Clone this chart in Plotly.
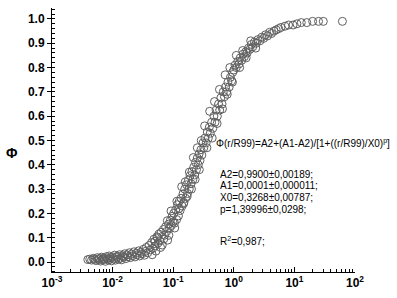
import plotly.graph_objects as go

# ---- data ----
x_tail = [0.0039, 0.0042, 0.0045, 0.0048, 0.0050, 0.0053, 0.0056, 0.0058, 0.0060, 0.0063,
          0.0066, 0.0068, 0.0070, 0.0073, 0.0076, 0.0079, 0.0082, 0.0085, 0.0088, 0.0090,
          0.0093, 0.0096, 0.0100, 0.0104, 0.0108, 0.0112, 0.0116, 0.0120, 0.0125, 0.0130,
          0.0135, 0.0140, 0.0146, 0.0152, 0.0158, 0.0165, 0.0172, 0.0180, 0.0188, 0.0196,
          0.0205, 0.0214, 0.0224, 0.0234, 0.0245, 0.0256, 0.0268, 0.0280, 0.0293, 0.0306,
          0.0320, 0.0335, 0.0350]
y_tail = [0.010, 0.012, 0.008, 0.015, 0.011, 0.006, 0.018, 0.010, 0.014, 0.004,
          0.020, 0.009, 0.016, 0.012, 0.003, 0.022, 0.014, 0.008, 0.025, 0.011,
          0.017, 0.005, 0.021, 0.013, 0.028, 0.008, 0.019, 0.024, 0.012, 0.030,
          0.016, 0.009, 0.026, 0.020, 0.034, 0.014, 0.029, 0.022, 0.038, 0.018,
          0.032, 0.026, 0.042, 0.021, 0.036, 0.030, 0.046, 0.025, 0.040, 0.034,
          0.052, 0.028, 0.044]

x_low = [0.036, 0.038, 0.040, 0.042, 0.044, 0.046, 0.048, 0.050, 0.052, 0.054, 0.056, 0.058, 0.060,
         0.063, 0.066, 0.069, 0.072, 0.075, 0.078, 0.081, 0.084, 0.087, 0.090, 0.093, 0.096, 0.099]
y_low = [0.060, 0.038, 0.068, 0.050, 0.080, 0.056, 0.094, 0.066, 0.045, 0.104, 0.078, 0.115, 0.088,
         0.122, 0.070, 0.134, 0.110, 0.145, 0.126, 0.090, 0.156, 0.138, 0.172, 0.150, 0.188, 0.164]

x_mid = [0.102, 0.106, 0.110, 0.114, 0.118, 0.122, 0.126, 0.130, 0.135, 0.140, 0.145, 0.150,
         0.155, 0.160, 0.166, 0.172, 0.178, 0.184, 0.190, 0.197, 0.204, 0.211, 0.218, 0.226,
         0.234, 0.242, 0.250, 0.259, 0.268, 0.277, 0.287, 0.297]
y_mid = [0.200, 0.140, 0.215, 0.175, 0.236, 0.190, 0.250, 0.212, 0.262, 0.230, 0.280, 0.245,
         0.300, 0.262, 0.318, 0.282, 0.336, 0.300, 0.355, 0.322, 0.372, 0.340, 0.390, 0.358,
         0.410, 0.380, 0.428, 0.400, 0.445, 0.418, 0.462, 0.440]

x_upmid = [0.31, 0.32, 0.335, 0.35, 0.365, 0.38, 0.395, 0.41, 0.43, 0.45, 0.47, 0.49, 0.51,
           0.535, 0.56, 0.585, 0.61, 0.64, 0.67, 0.70, 0.73, 0.765, 0.80, 0.84, 0.88, 0.92, 0.96]
y_upmid = [0.49, 0.47, 0.51, 0.49, 0.535, 0.51, 0.555, 0.53, 0.575, 0.55, 0.60, 0.575, 0.625,
           0.60, 0.65, 0.625, 0.675, 0.65, 0.70, 0.68, 0.72, 0.70, 0.74, 0.72, 0.76, 0.745, 0.78]

x_up = [1.0, 1.05, 1.1, 1.16, 1.22, 1.28, 1.35, 1.42, 1.5, 1.58, 1.66, 1.75, 1.85, 1.95, 2.05,
        2.2, 2.35, 2.5, 2.7, 2.9, 3.1, 3.35, 3.6, 3.9, 4.2, 4.6, 5.0, 5.5, 6.0]
y_up = [0.79, 0.81, 0.80, 0.825, 0.815, 0.84, 0.83, 0.855, 0.845, 0.865, 0.86, 0.88, 0.875,
        0.895, 0.885, 0.905, 0.90, 0.915, 0.91, 0.925, 0.92, 0.935, 0.93, 0.945, 0.94, 0.95,
        0.955, 0.96, 0.965]

x_top = [7, 8, 9.5, 11, 13, 16, 20, 25, 30, 62]
y_top = [0.97, 0.975, 0.975, 0.98, 0.985, 0.985, 0.99, 0.99, 0.99, 0.99]

x_extra = [0.045, 0.05, 0.055, 0.062, 0.07, 0.08, 0.085, 0.092, 0.105, 0.115, 0.125, 0.138,
           0.148, 0.158, 0.17, 0.185, 0.2, 0.215, 0.23, 0.25, 0.27, 0.29, 0.33, 0.36, 0.4,
           0.44, 0.48, 0.53, 0.58, 0.65, 0.72, 0.78, 0.86, 0.95, 1.1, 1.25, 1.4, 1.6, 1.9, 2.3]
y_extra = [0.03, 0.085, 0.10, 0.06, 0.095, 0.17, 0.11, 0.21, 0.16, 0.25, 0.22, 0.31,
           0.24, 0.33, 0.27, 0.37, 0.30, 0.43, 0.34, 0.47, 0.38, 0.50, 0.56, 0.47, 0.62,
           0.51, 0.66, 0.57, 0.71, 0.63, 0.77, 0.69, 0.80, 0.74, 0.85, 0.80, 0.87, 0.84, 0.91, 0.88]

x_ticks = [0.001, 0.01, 0.1, 1, 10, 100]
x_ticktext = ["10<sup>-3</sup>", "10<sup>-2</sup>", "10<sup>-1</sup>",
              "10<sup>0</sup>", "10<sup>1</sup>", "10<sup>2</sup>"]
y_ticks = [0.0, 0.1, 0.2, 0.3, 0.4, 0.5, 0.6, 0.7, 0.8, 0.9, 1.0]
y_ticktext = ["0.0", "0.1", "0.2", "0.3", "0.4", "0.5", "0.6", "0.7", "0.8", "0.9", "1.0"]

formula = "Φ(r/R99)=A2+(A1-A2)/[1+((r/R99)/X0)<sup>p</sup>]"
params = ["A2=0,9900±0,00189;", "A1=0,0001±0,000011;", "X0=0,3268±0,00787;", "p=1,39996±0,0298;"]
r2_text = "R<sup>2</sup>=0,987;"

xs = x_tail + x_low + x_mid + x_extra + x_upmid + x_up + x_top
ys = y_tail + y_low + y_mid + y_extra + y_upmid + y_up + y_top

fig = go.Figure()
fig.add_trace(go.Scatter(
    x=xs, y=ys, mode="markers",
    marker=dict(symbol="circle-open", size=8, color="#606060", line=dict(width=1, color="#606060")),
    showlegend=False,
))

FONT = "Liberation Sans, Arial, sans-serif"

fig.update_layout(
    width=397, height=298,
    margin=dict(l=52, r=42, t=8, b=26),
    paper_bgcolor="white", plot_bgcolor="white",
    font=dict(family=FONT, color="black"),
    xaxis=dict(
        type="log", range=[-3, 2], automargin=False,
        tickvals=x_ticks, ticktext=x_ticktext,
        ticks="inside", ticklen=5, tickwidth=1, tickcolor="black",
        showline=True, linecolor="black", linewidth=1,
        showgrid=False, zeroline=False,
        tickfont=dict(family=FONT, size=12, weight="bold", color="black"),
        minor=dict(dtick="D1", ticks="inside", ticklen=3, tickcolor="black", showgrid=False),
    ),
    yaxis=dict(
        range=[-0.041, 1.045], automargin=False,
        tickvals=y_ticks, ticktext=y_ticktext,
        ticks="outside", ticklen=4, tickwidth=1, tickcolor="black",
        showline=True, linecolor="black", linewidth=1,
        showgrid=False, zeroline=False,
        tickfont=dict(family=FONT, size=12, weight="bold", color="black"),
        minor=dict(dtick=0.02, tick0=0, ticks="inside", ticklen=3, tickcolor="black", showgrid=False),
    ),
)

fig.add_annotation(xref="paper", yref="paper", x=-0.133, y=0.45, text="<b>Φ</b>",
                   showarrow=False, font=dict(family=FONT, size=14, color="black"),
                   xanchor="center", yanchor="middle")

def px_to_paper_y(py):
    return (272 - py) / 264.0

def px_to_paper_x(px):
    return (px - 52) / 303.0

fig.add_annotation(xref="paper", yref="paper", x=px_to_paper_x(214), y=px_to_paper_y(143),
                   text=formula, showarrow=False, xanchor="left", yanchor="middle",
                   font=dict(family=FONT, size=10, color="black"))
for i, t in enumerate(params):
    fig.add_annotation(xref="paper", yref="paper", x=px_to_paper_x(218), y=px_to_paper_y(174 + 11.7 * i),
                       text=t, showarrow=False, xanchor="left", yanchor="middle",
                       font=dict(family=FONT, size=10, color="black"))
fig.add_annotation(xref="paper", yref="paper", x=px_to_paper_x(218), y=px_to_paper_y(241),
                   text=r2_text, showarrow=False, xanchor="left", yanchor="middle",
                   font=dict(family=FONT, size=10, color="black"))

fig.write_html("out.html", config={"displayModeBar": False},
               post_script="document.body.style.margin='0';")
